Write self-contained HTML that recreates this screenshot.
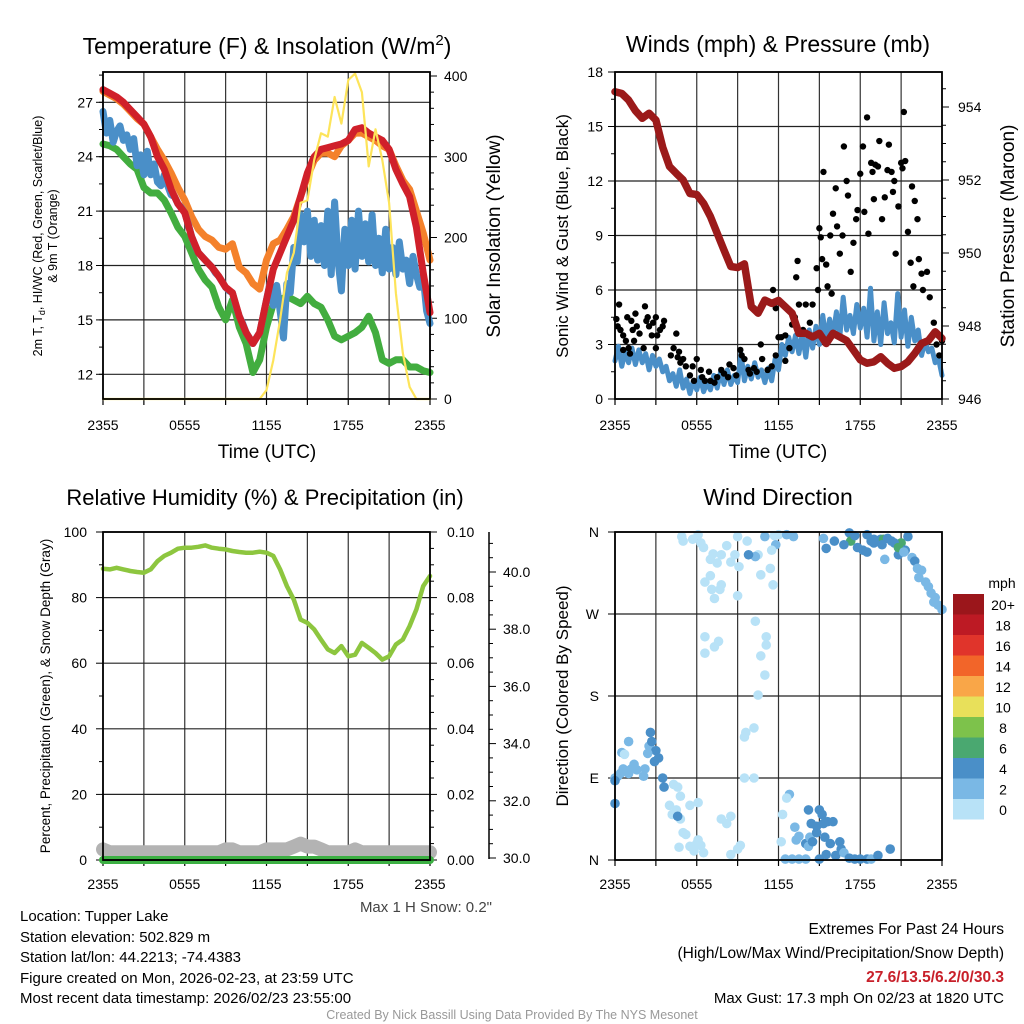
<!DOCTYPE html>
<html><head><meta charset="utf-8">
<style>
html,body{margin:0;padding:0;background:#fff;}
svg{display:block;font-family:"Liberation Sans",sans-serif;}
</style></head>
<body>
<svg id="fig" width="1024" height="1024" viewBox="0 0 1024 1024" xmlns="http://www.w3.org/2000/svg"></svg>
<script>
// ---------- DATA ----------
const hoursHalf = [];
for (let i = 0; i <= 48; i++) hoursHalf.push(i * 0.5);
const hoursQuarter = [];
for (let i = 0; i <= 96; i++) hoursQuarter.push(i * 0.25);
const timeTickLabels = ["2355","0555","1155","1755","2355"];

const tempRed = [27.7,27.5,27.3,27.0,26.6,26.2,25.8,25.1,24.0,23.3,22.2,21.4,20.9,19.6,18.7,18.3,17.9,17.4,16.8,16.5,15.2,14.3,13.7,14.3,16.1,17.8,18.7,19.6,20.5,21.8,23.1,24.0,24.4,24.5,24.6,24.7,24.9,25.5,25.6,25.3,25.1,24.9,24.4,23.3,22.5,21.8,20.1,17.6,15.4];
const tempOrange = [27.6,27.4,27.2,26.9,26.5,26.1,25.8,25.1,24.4,23.8,23.1,22.3,21.6,20.7,20.0,19.6,19.4,19.0,18.9,19.2,17.9,17.6,17.0,16.7,18.3,19.2,19.4,20.0,20.7,21.8,22.9,23.8,24.2,24.2,24.0,24.6,24.9,25.3,25.3,25.1,24.9,24.6,24.4,23.5,22.7,22.2,21.0,19.8,18.3];
const tempGreen = [24.7,24.6,24.4,24.0,23.6,23.3,22.3,22.0,22.0,21.6,20.9,20.1,19.6,18.7,17.8,17.2,16.8,15.7,15.0,16.1,14.6,13.7,12.1,12.8,14.6,15.9,16.1,16.3,16.1,15.9,16.3,15.9,15.7,15.0,14.1,13.9,14.1,14.3,14.6,15.2,14.3,12.8,12.6,12.8,12.8,12.4,12.4,12.2,12.1];
const tempBlue = [26.5,25.3,26.0,24.8,25.4, 25.7,24.9,25.2,24.4, 25.0,23.5,24.1,23.0, 24.3,23.0,23.6,22.6, 22.4,23.0,22.4,21.9, 21.8,21.4,21.2,20.9, 20.3,19.6,19.1,18.7, 18.5,18.3,18.1,17.9, 17.6,17.4,17.1,16.8, 16.6,16.5,15.8,15.2, 14.8,14.3,14.0,13.7, 14.0,14.3,15.2,16.1, 17.0,15.8,16.9,15.5, 14.0,17.0,16.5,19.0, 18.2,20.8,19.3,21.0, 18.5,20.5,18.3,20.2, 18.0,21.0,17.5,21.5, 18.3,16.6,20.0,18.0, 20.5,17.8,21.0,18.5, 20.3,18.2,20.8,18.0, 19.5,17.6,20.0,17.8, 19.0,17.5,19.3,17.8, 18.3,17.0,18.5,17.5, 16.8,17.4,15.5,14.8];
const insolation = [0,0,0,0,0,0,0,0,0,0,0,0,0,0,0,0,0,0,0,0,0,0,0,0,11,48,98,156,181,243,246,296,329,325,374,341,395,403,380,288,334,296,243,131,57,15,0,0,0];

const pressure = [954.42,954.37,954.19,953.9,953.69,953.83,953.64,952.9,952.37,952.18,952.0,951.63,951.6,951.36,951.0,950.54,950.08,949.63,949.6,949.7,948.53,948.35,948.71,948.62,948.7,948.53,948.35,947.8,947.8,947.7,947.8,947.52,947.8,947.7,947.6,947.34,947.07,946.98,947.02,947.16,946.98,946.84,946.89,947.02,947.25,947.52,947.6,947.84,947.66];
const sonicWind = [2.1,2.9,1.8,2.6,2.0, 2.8,1.9,2.7,2.0, 2.5,1.6,2.4,1.8, 2.2,1.5,1.8,1.0, 1.4,0.7,1.6,0.6, 1.1,0.3,1.0,0.5, 1.2,0.4,0.9,0.5, 1.3,0.6,1.5,0.8, 1.6,0.8,1.3,0.9, 2.5,1.0,1.8,1.1, 2.0,1.2,1.6,0.9, 1.7,1.0,2.2,1.6, 3.0,2.4,3.4,2.6, 3.5,2.5,3.6,2.3, 3.8,2.8,4.0,3.0, 4.6,3.2,4.4,3.5, 4.8,3.4,5.6,3.8, 4.6,3.6,5.2,3.9, 5.0,3.4,6.1,3.2, 4.8,3.0,5.3,3.6, 4.2,3.1,5.8,3.4, 4.9,2.9,4.5,3.2, 3.8,2.4,3.2,2.6, 2.8,2.0,2.2,1.3];
const gustHours = [0.1,0.3,0.2,0.4,0.6,0.8,1,1.2,1.3,1.5,1.6,1.4,1.8,2.1,2.2,2.3,2.4,2.5,2.7,2.8,3,3.1,3.3,3.5,3.6,3.0,1.1,0.6,0.9,4.1,4.3,4.5,4.6,4.8,4.7,5,5.2,5.5,5.8,5.7,6,6.3,6.4,6.6,6.9,7,7.3,7.5,7.8,8,8.3,8.4,8.7,8.9,9.2,9.3,9.5,9.8,9.9,10.2,10.4,10.7,10.8,11.2,11.5,11.8,12,12.2,12.5,12.8,12.5,13,13.2,13.3,13.5,13.4,13.8,14,14.3,14.5,14.8,14.9,15,15.1,15.2,15.5,15.6,15.8,15.9,16,16.3,16.5,16.7,16.2,16.8,17,17.1,17.3,17.5,17.7,17.8,18,18.3,18.2,18.5,18.6,18.9,19,19.4,19.3,19.1,19.6,19.8,20.0,20.3,20.4,20.6,20.5,20.8,21,21.2,21.1,21.3,21.5,21.7,21.9,22,22.3,22.5,22.6,22.9,23.1,23.4,23.6,23.8,24,21.8,22.2,20.1,18.8,15.3,11.8,12.1,11.6,10.2];
const gustValues = [4.4,5.2,4.0,3.8,3.5,3.2,2.8,4.3,3.8,4.7,4.0,3.2,3.6,2.8,5.1,4.3,4.5,4.0,3.5,4.2,4.5,3.5,3.8,4.0,4.3,2.8,2.5,2.7,4.5,2.4,2.8,3.6,2.3,2.0,2.6,2.2,1.8,1.3,1.0,1.8,2.2,1.6,1.2,1.0,1.5,1.0,0.9,1.2,1.6,1.4,1.2,1.9,1.7,1.3,2.7,2.4,2.2,1.6,1.4,1.7,1.5,3.0,2.2,1.6,1.8,2.4,3.4,3.4,2.1,2.8,3.5,4.1,4.5,6.7,5.2,7.6,3.8,5.2,4.2,5.2,7.2,6.0,9.4,8.9,7.7,7.4,6.2,9.0,5.8,10.2,9.5,8.0,9.0,11.6,13.9,12.0,11.2,7.0,8.6,9.9,10.4,12.4,10.3,13.9,15.5,9.1,12.5,11.0,14.2,12.8,12.9,9.9,11.1,12.6,12.5,11.4,8.0,12.0,10.6,13.0,15.8,12.7,13.1,9.2,7.5,6.2,10.9,7.7,6.9,6.0,7.0,5.6,4.2,3.0,2.4,3.2,11.7,9.9,14.0,13.0,12.5,5.0,5.3,6.0,5.0];

const rhValues = [88.8,88.6,89.1,88.6,88.1,87.8,87.6,88.6,91.1,92.7,93.7,94.9,95.2,95.2,95.5,95.9,95.2,94.9,94.7,94.2,93.9,93.7,93.7,94.0,93.7,92.7,88.6,83.5,79.4,73.3,72.3,70.3,67.2,64.2,63.1,65.2,62.1,62.6,66.2,64.7,63.1,61.1,62.1,65.7,67.2,71.3,76.4,83.5,86.6];
const precipValues = [0,0,0,0,0,0,0,0,0,0,0,0,0,0,0,0,0,0,0,0,0,0,0,0,0,0,0,0,0,0,0,0,0,0,0,0,0,0,0,0,0,0,0,0,0,0,0,0,0];
const snowDepth = [30.3,30.2,30.2,30.2,30.2,30.2,30.2,30.2,30.2,30.2,30.2,30.2,30.2,30.2,30.2,30.2,30.2,30.2,30.3,30.3,30.2,30.2,30.2,30.2,30.3,30.3,30.3,30.3,30.4,30.5,30.4,30.4,30.3,30.2,30.2,30.2,30.2,30.3,30.2,30.2,30.2,30.2,30.2,30.2,30.2,30.2,30.2,30.2,30.2];

const dirHours = [0,0.2,0.4,0.6,0.8,1,1.2,1.4,1.6,0.5,1,2.5,2.6,2.7,3,3.2,2.9,2.4,0.7,2.2,2.1,0,0, 3.5,3.6,4.3,4.6,4.8,4,4.5,4.2,4.8,4.6,5.5,6.1,5,5.2,4.7,5.5,6,6.1,6.3,5.8,6.5,7.8,8.5,8.2,9.2,9,8.5,9.5,10.2,9.6,10.2,9.5, 4.9,5,5.7,6.3,6.1,6.5,7.2,7,7.5,7.8,7,6.6,7.1,7.7,7.3,7.8,8.8,8.5,8.2,9,9.1,9,9.7,10.5,10.3,9.8,11.4,11.7,12,11.8,11.5,11,12.6,13.1,10.7,11.6,6.6,7.3,7.6,6.6,10.3,11.1,11.1,10.7,11,10.5, 12.2,12.8,12.6,12.3,13.2,13.5,13.3,14,14.3,14.2,14.5,14.8,14.4,14.8,14.2,15,15.2,15.6,15.3,16,15.4,15.8,16.5,16.6,16.2,16.8,17.2,17.6,18,18.5,18.8,19.3,20.2,12.5,13,13.5,14,15,15.5, 15.3,17.2,17.3,17.6,18.5,18.8,19,19.5,19.7,20,20.3,21,20.8,20.5,21.5,21.3,21.8,22,22.2,22.5,22.3,23,23.2,23.5,23.7,24,22.8,18.2,16.1,15.5,17.8,19,16.8,18.5,20.8,19.6,21.2,19.8,23.4];
const dirDegrees = [90,92,95,100,98,95,100,105,99,118,130,125,140,130,120,112,108,117,116,100,92,62,87, 90,80,83,80,70,60,55,50,45,48,60,63,30,28,14,15,18,22,16,10,8,45,48,40,16,12,6,90,90,140,145,135, 355,350,352,348,357,343,336,330,326,335,312,305,297,297,287,302,335,327,345,355,322,290,350,335,333,335,320,356,357,346,340,355,357,355,313,302,245,234,240,227,262,245,236,224,203,181, 20,72,68,50,36,26,22,18,25,15,20,30,40,37,55,55,50,42,40,42,25,18,20,12,5,8,2,1,1,1,1,5,12,1,1,1,1,1,6, 353,359,350,356,357,350,352,352,352,353,350,348,335,348,355,340,332,328,320,318,310,300,293,288,280,275,305,340,350,342,343,348,346,338,343,346,338,330,283];
const dirSpeeds = [3,3,2.5,3,3,2.6,3,3,3,3,3,3.5,4,4,4,4,4,3,1.5,3,3,4,4, 4,4,1,1.5,1,1,1.5,1,1,4,1.5,1.5,1,1,1,1,1,1,1,1,1,1.5,1.5,1,1,1,1,1,1,1,1,1, 1,1,1,1,1,1,1,1,1,1,1,1,1,1,1,1,1,1,1,1,1.5,1,1,1,2.5,4,1,1,1,2,1,3.5,3.5,2.5,1,1,1,1,1,1,1,1,1,1,1,1, 1.5,2.5,1.5,1,3,2.5,3.5,4,2.5,3,4,4,4,4,4,4,5,4.5,4.5,4.5,4,4,4,4,4,3,4.5,4.5,4.5,4.5,3,4.5,5,3,3,3,2.5,4.5,4, 3,4.5,6.5,5,5,5,5,5,6.5,5,5,6.5,5,4.5,5,4,3,4,3,3,3,3,3,3,2,3,3,4.5,4.5,4.5,4.5,5,4.5,4,6.5,5,3,3,3];

const speedBinLabels = ["20+","18","16","14","12","10","8","6","4","2","0"];
const speedBinColors = ["#9b161b","#bd1a24","#e0342b","#f26529","#f9a648","#e8e05a","#7dc24b","#4aa870","#4a8fc8","#7ab8e5","#b8e2f7"];

// ---------- HELPERS ----------
const NS = "http://www.w3.org/2000/svg";
const svg = document.getElementById("fig");
function mk(tag, attrs, parent) {
  const e = document.createElementNS(NS, tag);
  for (const k in attrs) e.setAttribute(k, attrs[k]);
  (parent || svg).appendChild(e);
  return e;
}
function txt(x, y, s, size, anchor, parent, extra) {
  const a = {x: x, y: y, "font-size": size, "text-anchor": anchor || "middle", fill: "#000"};
  if (extra) for (const k in extra) a[k] = extra[k];
  const t = mk("text", a, parent);
  t.textContent = s;
  return t;
}
function group(name) {
  const g = mk("g", {});
  
  
  return g;
}
function polyline(xs, ys, color, width, parent) {
  let d = "";
  for (let i = 0; i < xs.length; i++) d += (i ? "L" : "M") + xs[i].toFixed(1) + "," + ys[i].toFixed(1);
  return mk("path", {d: d, fill: "none", stroke: color, "stroke-width": width, "stroke-linejoin": "round", "stroke-linecap": "round"}, parent);
}
function timeScale(L, R) { return h => L + h / 24 * (R - L); }
function linScale(v0, p0, v1, p1) { return v => p0 + (v - v0) / (v1 - v0) * (p1 - p0); }

function frameAndTimeAxis(g, L, R, T, B, labelY) {
  const xs = timeScale(L, R);
  for (let h = 0; h <= 24; h += 3) {
    mk("line", {x1: xs(h), y1: T, x2: xs(h), y2: B, stroke: "#333", "stroke-width": 1.2}, g);
    mk("line", {x1: xs(h), y1: B, x2: xs(h), y2: B + 6, stroke: "#000", "stroke-width": 1.2}, g);
  }
  for (let i = 0; i < timeTickLabels.length; i++) {
    const t = txt(xs(i * 6), labelY, timeTickLabels[i], 14, "middle", g);
    
    
  }
}
function hGrid(g, L, R, y) { mk("line", {x1: L, y1: y, x2: R, y2: y, stroke: "#222", "stroke-width": 1.2}, g); }
function leftTick(g, L, y, len) { mk("line", {x1: L - len, y1: y, x2: L, y2: y, stroke: "#000", "stroke-width": 1}, g); }
function rightTick(g, R, y, len) { mk("line", {x1: R, y1: y, x2: R + len, y2: y, stroke: "#000", "stroke-width": 1}, g); }
function border(g, L, R, T, B) { mk("rect", {x: L, y: T, width: R - L, height: B - T, fill: "none", stroke: "#000", "stroke-width": 1.8}, g); }

// ---------- PANEL 1 : Temperature ----------
(function () {
  const L = 103, R = 430, T = 72, B = 399;
  const g = group("temperature-panel");
  const xs = timeScale(L, R);
  const yT = linScale(12, 374.3, 27, 102.3);
  const yS = linScale(0, 399, 400, 76);
  frameAndTimeAxis(g, L, R, T, B, 430);
  for (let v = 12; v <= 27; v += 3) {
    hGrid(g, L, R, yT(v)); leftTick(g, L, yT(v), 7);
    const t = txt(L - 10, yT(v) + 5, String(v), 14, "end", g);
    
    
  }
  for (let v = 10.5; v <= 28.5; v += 1.5) if (yT(v) > T && yT(v) < B) leftTick(g, L, yT(v), 4);
  for (let v = 0; v <= 400; v += 20) rightTick(g, R, yS(v), v % 100 === 0 ? 7 : 4);
  for (let v = 0; v <= 400; v += 100) {
    const t = txt(R + 14, yS(v) + 5, String(v), 14, "start", g);
    
    
  }
  const p1 = polyline(hoursHalf.map(xs), tempOrange.map(yT), "#f4812b", 7, g);
  
  const p2 = polyline(hoursHalf.map(xs), tempGreen.map(yT), "#42ad3f", 7, g);
  
  const p3 = polyline(hoursQuarter.map(xs), tempBlue.map(yT), "#4a8fc8", 7, g);
  
  const p4 = polyline(hoursHalf.map(xs), tempRed.map(yT), "#d0202a", 7, g);
  
  const p5 = polyline(hoursHalf.map(xs), insolation.map(yS), "#fde45a", 2.2, g);
  
  border(g, L, R, T, B);
  const tt = txt(267, 54, "", 23, "middle", g);
  tt.innerHTML = 'Temperature (F) &amp; Insolation (W/m<tspan dy="-9" font-size="15">2</tspan><tspan dy="9">)</tspan>';
  
  const xt = txt(267, 458, "Time (UTC)", 19, "middle", g);
  
  const yt = txt(0, 0, "", 12.5, "middle", g, {transform: "translate(42,236) rotate(-90)"});
  yt.innerHTML = '2m T, T<tspan dy="3" font-size="9">d</tspan><tspan dy="-3">, HI/WC (Red, Green, Scarlet/Blue)</tspan>';
  
  const yt2 = txt(0, 0, "& 9m T (Orange)", 12.5, "middle", g, {transform: "translate(57,236) rotate(-90)"});
  
  const rt = txt(0, 0, "Solar Insolation (Yellow)", 19, "middle", g, {transform: "translate(500,236) rotate(-90)"});
  
})();

// ---------- PANEL 2 : Winds ----------
(function () {
  const L = 615, R = 942, T = 72, B = 399;
  const g = group("winds-panel");
  const xs = timeScale(L, R);
  const yW = linScale(0, 399, 18, 72);
  const yP = linScale(946, 399, 954, 107);
  frameAndTimeAxis(g, L, R, T, B, 430);
  for (let v = 0; v <= 18; v += 3) {
    hGrid(g, L, R, yW(v)); leftTick(g, L, yW(v), 7);
    const t = txt(L - 12, yW(v) + 5, String(v), 14, "end", g);
    
    
  }
  for (let v = 1.5; v < 18; v += 3) leftTick(g, L, yW(v), 4);
  for (let v = 946; v <= 954.8; v += 0.5) rightTick(g, R, yP(v), Math.abs(v - Math.round(v / 2) * 2) < 0.01 ? 7 : 4);
  for (let v = 946; v <= 954; v += 2) {
    const t = txt(R + 16, yP(v) + 5, String(v), 14, "start", g);
    
    
  }
  const sw = polyline(hoursQuarter.map(xs), sonicWind.map(yW), "#4a8fc8", 5, g);
  
  for (let i = 0; i < gustHours.length; i++) {
    const c = mk("circle", {cx: xs(gustHours[i]), cy: yW(gustValues[i]), r: 3.2, fill: "#000"}, g);
    
    
  }
  const pl = polyline(hoursHalf.map(xs), pressure.map(yP), "#9b1a1a", 7.5, g);
  
  border(g, L, R, T, B);
  const tt = txt(778, 52, "Winds (mph) & Pressure (mb)", 23, "middle", g);
  
  const xt = txt(778, 458, "Time (UTC)", 19, "middle", g);
  
  const yt = txt(0, 0, "Sonic Wind & Gust (Blue, Black)", 17, "middle", g, {transform: "translate(568,236) rotate(-90)"});
  
  const rt = txt(0, 0, "Station Pressure (Maroon)", 19, "middle", g, {transform: "translate(1014,236) rotate(-90)"});
  
})();

// ---------- PANEL 3 : Humidity ----------
(function () {
  const L = 103, R = 430, T = 532, B = 860;
  const g = group("humidity-panel");
  const xs = timeScale(L, R);
  const yR = linScale(0, 860, 100, 532);
  const yPr = linScale(0, 860, 0.1, 532);
  const ySn = linScale(30, 858, 40, 572);
  frameAndTimeAxis(g, L, R, T, B, 889);
  for (let v = 0; v <= 100; v += 20) {
    hGrid(g, L, R, yR(v)); leftTick(g, L, yR(v), 7);
    const t = txt(L - 16, yR(v) + 5, String(v), 14, "end", g);
    
    
  }
  for (let v = 10; v < 100; v += 20) leftTick(g, L, yR(v), 4);
  for (let v = 0; v <= 0.1001; v += 0.005) rightTick(g, R, yPr(v), Math.round(v * 1000) % 20 === 0 ? 7 : 4);
  for (let v = 0; v <= 0.1001; v += 0.02) {
    const t = txt(R + 17, yPr(v) + 5, v.toFixed(2), 14, "start", g);
    
    
  }
  mk("line", {x1: 489, y1: 532, x2: 489, y2: 859, stroke: "#000", "stroke-width": 1.5}, g);
  for (let v = 30; v <= 41.4; v += 0.5) rightTick(g, 489, ySn(v), Math.abs(v - Math.round(v / 2) * 2) < 0.01 ? 7 : 4);
  for (let v = 30; v <= 40; v += 2) {
    const t = txt(503, ySn(v) + 5, v.toFixed(1), 14, "start", g);
    
    
  }
  const sd = polyline(hoursHalf.map(xs), snowDepth.map(ySn), "#b3b3b3", 14, g);
  
  const pr = polyline(hoursHalf.map(xs), precipValues.map(yPr), "#3cb043", 8, g);
  
  const rh = polyline(hoursHalf.map(xs), rhValues.map(yR), "#8dc63f", 4.5, g);
  
  border(g, L, R, T, B);
  mk("line", {x1: L, y1: 860, x2: R, y2: 860, stroke: "#000", "stroke-width": 1.5}, g);
  const tt = txt(265, 505, "Relative Humidity (%) & Precipitation (in)", 22, "middle", g);
  
  const yt = txt(0, 0, "Percent, Precipitation (Green), & Snow Depth (Gray)", 13.5, "middle", g, {transform: "translate(50,696) rotate(-90)"});
  
  const ms = txt(492, 912, 'Max 1 H Snow: 0.2"', 15, "end", g, {fill: "#444"});
  
})();

// ---------- PANEL 4 : Wind direction ----------
(function () {
  const L = 615, R = 942, T = 532, B = 860;
  const g = group("wind-direction-panel");
  const xs = timeScale(L, R);
  const yD = linScale(0, 860, 360, 532);
  frameAndTimeAxis(g, L, R, T, B, 889);
  const dirLabels = ["N","E","S","W","N"];
  for (let i = 0; i < 5; i++) {
    hGrid(g, L, R, yD(i * 90)); leftTick(g, L, yD(i * 90), 7);
    const t = txt(L - 16, yD(i * 90) + 5, dirLabels[i], 14, "end", g);
    
    
  }
  function colorFor(s) {
    const idx = Math.min(10, Math.floor(s / 2));
    return speedBinColors[10 - idx];
  }
  for (let i = 0; i < dirHours.length; i++) {
    const c = mk("circle", {cx: xs(dirHours[i]), cy: yD(dirDegrees[i]), r: 4.8, fill: colorFor(dirSpeeds[i])}, g);
    
    
  }
  border(g, L, R, T, B);
  const tt = txt(778, 505, "Wind Direction", 23, "middle", g);
  
  const yt = txt(0, 0, "Direction (Colored By Speed)", 17, "middle", g, {transform: "translate(568,696) rotate(-90)"});
  
  const cb = group("speed-colorbar");
  const mph = txt(1002, 588, "mph", 14, "middle", cb);
  
  for (let i = 0; i < speedBinColors.length; i++) {
    const y0 = 594 + i * 20.5;
    const r = mk("rect", {x: 953, y: y0, width: 31, height: 20.5, fill: speedBinColors[i]}, cb);
    
    
    const t = txt(1003, y0 + 16, speedBinLabels[i], 14, "middle", cb);
    
    
  }
})();

// ---------- FOOTER TEXT ----------
(function () {
  const g = group("station-info");
  const lines = ["Location: Tupper Lake","Station elevation: 502.829 m","Station lat/lon: 44.2213; -74.4383","Figure created on Mon, 2026-02-23, at 23:59 UTC","Most recent data timestamp: 2026/02/23 23:55:00"];
  const ys = [921, 942, 962, 983, 1003];
  for (let i = 0; i < lines.length; i++) {
    const t = txt(20, ys[i], lines[i], 15, "start", g);
    
    
  }
  const e = group("extremes-summary");
  const a = txt(1004, 934, "Extremes For Past 24 Hours", 15.5, "end", e);
  
  const b = txt(1004, 958, "(High/Low/Max Wind/Precipitation/Snow Depth)", 15.5, "end", e);
  
  const c = txt(1004, 982, "27.6/13.5/6.2/0/30.3", 15.5, "end", e, {fill: "#c8202a", "font-weight": "bold"});
  
  const d = txt(1004, 1003, "Max Gust: 17.3 mph On 02/23 at 1820 UTC", 15, "end", e);
  
  const f = txt(512, 1019, "Created By Nick Bassill Using Data Provided By The NYS Mesonet", 12.5, "middle", svg, {fill: "#999"});
  
})();
</script>
</body></html>
